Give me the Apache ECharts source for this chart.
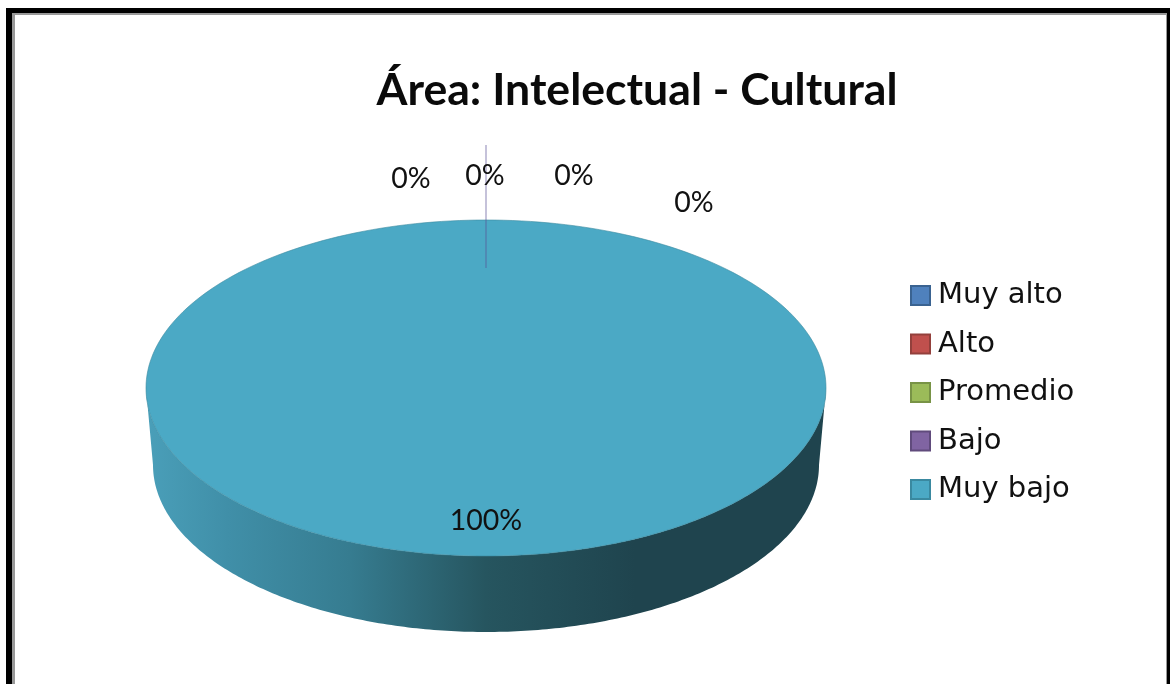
<!DOCTYPE html>
<html>
<head>
<meta charset="utf-8">
<style>html,body{margin:0;padding:0;background:#fff}#c{width:1170px;height:684px}</style>
<script src="https://cdn.jsdelivr.net/npm/echarts@6/dist/echarts.min.js"></script>
</head>
<body>
<div id="c"></div>
<script>
const categories = ['Muy alto', 'Alto', 'Promedio', 'Bajo', 'Muy bajo'];
const values = [0, 0, 0, 0, 100];
const titleText = 'Área: Intelectual - Cultural';

const colors = ['#4F81BD', '#C0504D', '#9BBB59', '#8064A2', '#4BA9C5'];
const borders = ['#3A6391', '#93403C', '#789346', '#604B7C', '#3A89A0'];
const labelPos = [[411, 179], [485, 176], [574, 176], [694, 203], [486, 521]];
const FONT = 'Lato, "Open Sans", sans-serif';
const topEll = {cx: 486, cy: 388, rx: 340, ry: 168};
const baseEll = {cx: 486, cy: 465, rx: 333, ry: 167};
const total = values.reduce((a, b) => a + b, 0);

function pt(e, ang) { return [e.cx + e.rx * Math.sin(ang), e.cy - e.ry * Math.cos(ang)]; }

function renderSlice(idx) {
  return function (params, api) {
    const v = api.value(0);
    let before = 0;
    for (let i = 0; i < idx; i++) before += values[i];
    const a0 = before / total * 2 * Math.PI, a1 = (before + v) / total * 2 * Math.PI;
    const kids = [];
    if (v > 0) {
      const n = 240, wall = [], face = [];
      const lo = Math.max(a0, Math.PI / 2), hi = Math.min(a1, 3 * Math.PI / 2);
      if (hi > lo) {
        for (let i = 0; i <= n; i++) wall.push(pt(topEll, lo + (hi - lo) * i / n));
        for (let i = n; i >= 0; i--) wall.push(pt(baseEll, lo + (hi - lo) * i / n));
        kids.push({
          type: 'polygon', shape: {points: wall},
          style: {fill: new echarts.graphic.LinearGradient(0, 0, 1, 0, [
            {offset: 0, color: '#4A9FB9'},
            {offset: 0.12, color: '#408FA8'},
            {offset: 0.3, color: '#367C90'},
            {offset: 0.5, color: '#26555F'},
            {offset: 0.72, color: '#1F444E'},
            {offset: 1, color: '#1F444E'}
          ])}
        });
      }
      for (let i = 0; i <= n; i++) face.push(pt(topEll, a0 + (a1 - a0) * i / n));
      if (a1 - a0 < 2 * Math.PI - 1e-6) face.push([topEll.cx, topEll.cy]);
      kids.push({type: 'polygon', shape: {points: face},
        style: {fill: colors[idx], stroke: borders[idx], lineWidth: 0.6}});
    } else if (idx === 0) {
      const start = pt(topEll, a0);
      kids.push({type: 'line', shape: {x1: start[0], y1: start[1] - 75, x2: start[0], y2: start[1] + 48},
        style: {stroke: 'rgba(90,80,150,0.35)', lineWidth: 2}});
    }
    kids.push({type: 'text', x: labelPos[idx][0], y: labelPos[idx][1],
      style: {text: Math.round(v / total * 100) + '%', font: '28.5px ' + FONT, fill: '#111',
        align: 'center', verticalAlign: 'middle'}});
    return {type: 'group', children: kids};
  };
}

const chart = echarts.init(document.getElementById('c'), null, {renderer: 'canvas'});
chart.setOption({
  animation: false,
  backgroundColor: '#fff',
  title: {text: titleText, left: 632, top: 58, textAlign: 'center',
    textStyle: {fontFamily: FONT, fontSize: 44.6, fontWeight: 'bold', color: '#0a0a0a', lineHeight: 56}},
  legend: {
    orient: 'vertical', left: 905, top: 276, itemWidth: 19, itemHeight: 19, itemGap: 19.5, selectedMode: false,
    textStyle: {fontFamily: '"DejaVu Sans", sans-serif', fontSize: 29, color: '#111', lineHeight: 20, padding: [0, 0, 0, 3]},
    data: categories.map((n, i) => ({name: n, icon: 'rect',
      itemStyle: {color: colors[i], borderColor: borders[i], borderWidth: 2}}))
  },
  graphic: [
    {type: 'rect', z: -3, shape: {x: 6, y: 8, width: 1300, height: 900}, style: {fill: '#000'}},
    {type: 'rect', z: -2, shape: {x: 12, y: 13, width: 1155, height: 900}, style: {fill: '#999'}},
    {type: 'rect', z: -1, shape: {x: 15, y: 15, width: 1151, height: 900}, style: {fill: '#fff'}}
  ],
  series: categories.map((n, i) => ({
    type: 'custom', name: n, coordinateSystem: 'none', z: values[i] > 0 ? 2 : 3,
    silent: true, clip: false,
    itemStyle: {color: colors[i]},
    renderItem: renderSlice(i),
    data: [[values[i]]]
  }))
});
</script>
</body>
</html>
